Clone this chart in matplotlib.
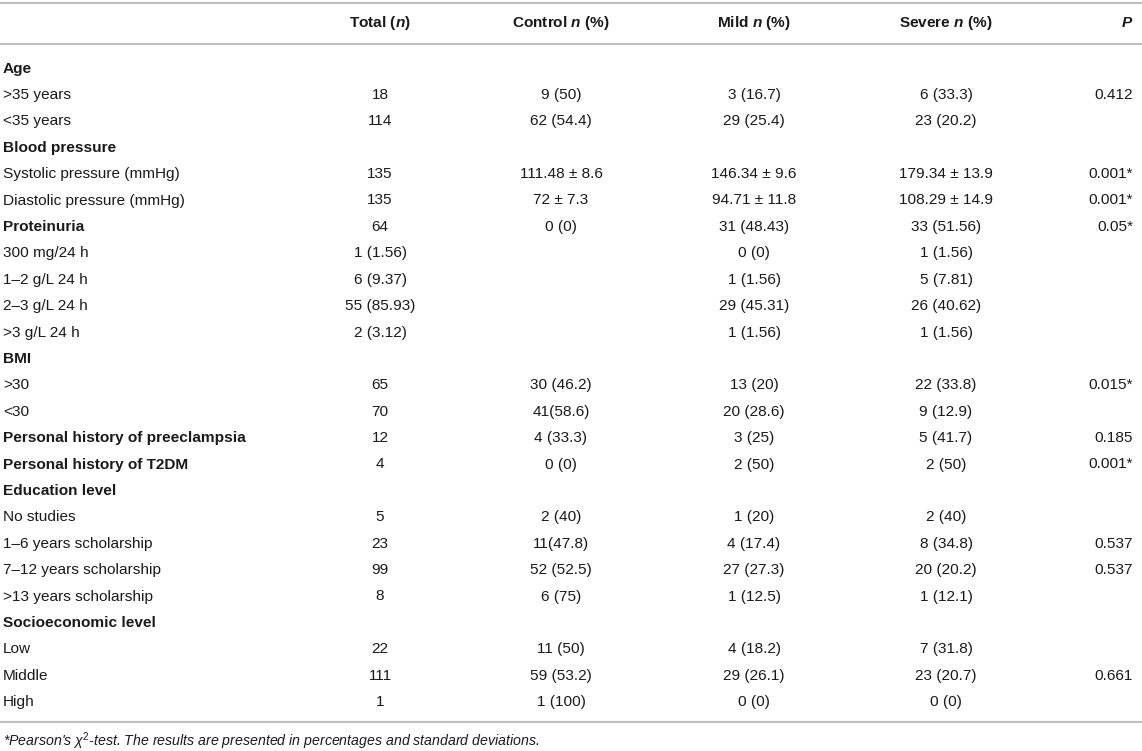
import matplotlib
matplotlib.use("Agg")
import matplotlib.pyplot as plt

plt.rcParams["font.family"] = ["Liberation Sans", "DejaVu Sans"]
plt.rcParams["mathtext.fontset"] = "custom"
plt.rcParams["mathtext.rm"] = "Liberation Sans"
plt.rcParams["mathtext.it"] = "Liberation Sans:italic"
plt.rcParams["mathtext.bf"] = "Liberation Sans:bold"
plt.rcParams["mathtext.bfit"] = "Liberation Sans:bold:italic"

# table content
headers = ["Total ($\\mathbfit{n}$)", "Control $\\mathbfit{n}$ (%)",
           "Mild $\\mathbfit{n}$ (%)", "Severe $\\mathbfit{n}$ (%)", "$\\mathbfit{P}$"]

labels = ["Age", ">35 years", "<35 years", "Blood pressure",
          "Systolic pressure (mmHg)", "Diastolic pressure (mmHg)", "Proteinuria",
          "300 mg/24 h", "1–2 g/L 24 h", "2–3 g/L 24 h", ">3 g/L 24 h", "BMI",
          ">30", "<30", "Personal history of preeclampsia",
          "Personal history of T2DM", "Education level", "No studies",
          "1–6 years scholarship", "7–12 years scholarship",
          ">13 years scholarship", "Socioeconomic level", "Low", "Middle", "High"]

bold_rows = ["Age", "Blood pressure", "Proteinuria", "BMI",
             "Personal history of preeclampsia", "Personal history of T2DM",
             "Education level", "Socioeconomic level"]

total = ["", "18", "114", "", "135", "135", "64", "1 (1.56)", "6 (9.37)",
         "55 (85.93)", "2 (3.12)", "", "65", "70", "12", "4", "", "5", "23",
         "99", "8", "", "22", "111", "1"]
control = ["", "9 (50)", "62 (54.4)", "", "111.48 ± 8.6", "72 ± 7.3", "0 (0)",
           "", "", "", "", "", "30 (46.2)", "41(58.6)", "4 (33.3)", "0 (0)", "",
           "2 (40)", "11(47.8)", "52 (52.5)", "6 (75)", "", "11 (50)",
           "59 (53.2)", "1 (100)"]
mild = ["", "3 (16.7)", "29 (25.4)", "", "146.34 ± 9.6", "94.71 ± 11.8",
        "31 (48.43)", "0 (0)", "1 (1.56)", "29 (45.31)", "1 (1.56)", "",
        "13 (20)", "20 (28.6)", "3 (25)", "2 (50)", "", "1 (20)", "4 (17.4)",
        "27 (27.3)", "1 (12.5)", "", "4 (18.2)", "29 (26.1)", "0 (0)"]
severe = ["", "6 (33.3)", "23 (20.2)", "", "179.34 ± 13.9", "108.29 ± 14.9",
          "33 (51.56)", "1 (1.56)", "5 (7.81)", "26 (40.62)", "1 (1.56)", "",
          "22 (33.8)", "9 (12.9)", "5 (41.7)", "2 (50)", "", "2 (40)",
          "8 (34.8)", "20 (20.2)", "1 (12.1)", "", "7 (31.8)", "23 (20.7)",
          "0 (0)"]
p_values = ["", "0.412", "", "", "0.001*", "0.001*", "0.05*", "", "", "", "",
            "", "0.015*", "", "0.185", "0.001*", "", "", "0.537", "0.537", "",
            "", "", "0.661", ""]

footnote = ("*Pearson's χ$^{2}$-test. The results are presented in percentages "
            "and standard deviations.")

W, H = 1142, 751
fig = plt.figure(figsize=(W / 100, H / 100), dpi=100)
ax = fig.add_axes([0, 0, 1, 1])
ax.set_xlim(0, W)
ax.set_ylim(H, 0)
ax.axis("off")

txt = "#1a1a1a"
rule = "#bfbfbf"
fs = 11.1

# column layout (pixels)
col_x = [380, 561, 754, 946, 1133]
col_ha = ["center", "center", "center", "center", "right"]
header_y = 23
row0_y = 68.5
row_h = 26.4

for y in [3, 43.5, 722]:
    ax.plot([0, W], [y, y], color=rule, lw=1.5, solid_capstyle="butt")

for h, x, ha in zip(headers, col_x, col_ha):
    ax.text(x, header_y, h, ha=ha, va="center", fontsize=fs,
            fontweight="bold", color=txt)

columns = [total, control, mild, severe, p_values]
for i, lab in enumerate(labels):
    y = row0_y + i * row_h
    ax.text(3, y, lab, ha="left", va="center", fontsize=fs, color=txt,
            fontweight="bold" if lab in bold_rows else "normal")
    for col, x, ha in zip(columns, col_x, col_ha):
        if col[i]:
            ax.text(x, y, col[i], ha=ha, va="center", fontsize=fs, color=txt)

ax.text(3, 741, footnote, ha="left", va="center", fontsize=10.2,
        fontstyle="italic", color=txt)

fig.savefig("out.png", dpi=100)
